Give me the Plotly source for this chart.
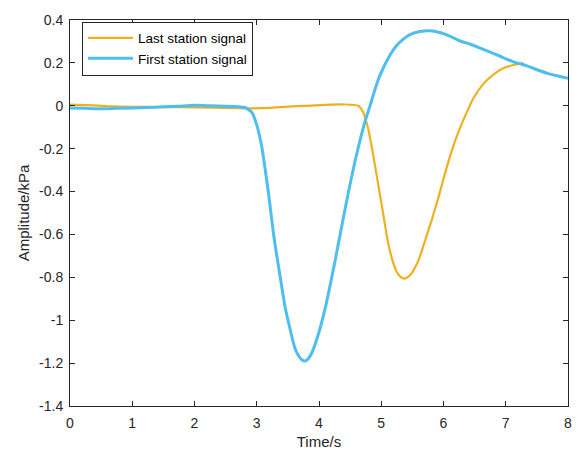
import plotly.graph_objects as go

# First station signal (blue)
first_t = [0.0, 0.25, 0.5, 0.75, 1.0, 1.25, 1.5, 1.75, 2.0, 2.25, 2.5, 2.7, 2.81, 2.92,
           3.0, 3.08, 3.13, 3.19, 3.24, 3.29, 3.35, 3.40, 3.45, 3.53, 3.61, 3.66, 3.72,
           3.78, 3.83, 3.88, 3.94, 4.02, 4.10, 4.18, 4.26, 4.34, 4.42, 4.50, 4.58, 4.66,
           4.74, 4.82, 4.88, 4.95, 5.03, 5.14, 5.25, 5.35, 5.46, 5.62, 5.78, 5.94, 6.10,
           6.27, 6.43, 6.59, 6.75, 6.91, 7.12, 7.34, 7.44, 7.66, 7.82, 8.0]
first_v = [-0.010, -0.012, -0.014, -0.012, -0.010, -0.008, -0.005, -0.002, 0.002, 0.000,
           -0.002, -0.004, -0.008, -0.03, -0.09, -0.19, -0.285, -0.41, -0.53, -0.64, -0.75,
           -0.84, -0.93, -1.035, -1.127, -1.16, -1.183, -1.19, -1.178, -1.155, -1.11,
           -1.035, -0.944, -0.835, -0.72, -0.60, -0.48, -0.365, -0.257, -0.16, -0.072,
           0.0, 0.058, 0.12, 0.175, 0.236, 0.282, 0.31, 0.332, 0.346, 0.35, 0.342, 0.325,
           0.302, 0.287, 0.269, 0.25, 0.231, 0.205, 0.186, 0.175, 0.152, 0.14, 0.128]

# Last station signal (orange)
last_t = [0.0, 0.3, 0.6, 1.0, 1.5, 2.0, 2.5, 2.9, 3.2, 3.5, 3.8, 4.1, 4.4, 4.63, 4.71,
          4.79, 4.87, 4.95, 5.03, 5.11, 5.19, 5.25, 5.31, 5.37, 5.43, 5.49, 5.55, 5.60,
          5.70, 5.81, 5.92, 6.02, 6.13, 6.24, 6.35, 6.48, 6.64, 6.80, 6.96, 7.12, 7.28]
last_v = [0.005, 0.003, -0.002, -0.005, -0.006, -0.008, -0.010, -0.012, -0.010, -0.004,
          0.0, 0.004, 0.006, 0.0, -0.03, -0.107, -0.228, -0.365, -0.502, -0.639, -0.73,
          -0.775, -0.798, -0.806, -0.798, -0.78, -0.75, -0.72, -0.632, -0.533, -0.426,
          -0.32, -0.213, -0.122, -0.046, 0.035, 0.102, 0.145, 0.175, 0.19, 0.2]

x_ticks = [0, 1, 2, 3, 4, 5, 6, 7, 8]
y_ticks = [0.4, 0.2, 0, -0.2, -0.4, -0.6, -0.8, -1.0, -1.2, -1.4]
y_labels = ["0.4", "0.2", "0", "-0.2", "-0.4", "-0.6", "-0.8", "-1", "-1.2", "-1.4"]

FONT = "Liberation Sans"
INK = "#262626"

fig = go.Figure()
fig.add_trace(go.Scatter(x=last_t, y=last_v, mode="lines", name="Last station signal",
                         line=dict(color="#EDB120", width=2.2, shape="spline", smoothing=0.5)))
fig.add_trace(go.Scatter(x=first_t, y=first_v, mode="lines", name="First station signal",
                         line=dict(color="#4DBEEE", width=3, shape="spline", smoothing=0.5)))

axis_common = dict(showgrid=False, zeroline=False, showline=True, linecolor=INK,
                   linewidth=1, mirror="allticks", ticks="inside", ticklen=5,
                   tickcolor=INK, ticklabeloverflow="allow",
                   tickfont=dict(family=FONT, size=14, color=INK))
fig.update_xaxes(range=[0, 8], tickvals=x_ticks, ticktext=[str(v) for v in x_ticks],
                 ticklabelstandoff=4,
                 title=dict(text="Time/s", font=dict(family=FONT, size=15, color=INK),
                            standoff=6),
                 **axis_common)
fig.update_yaxes(range=[-1.4, 0.4], tickvals=y_ticks, ticktext=y_labels,
                 ticklabelstandoff=3,
                 title=dict(text="Amplitude/kPa", font=dict(family=FONT, size=15, color=INK),
                            standoff=5),
                 **axis_common)

fig.update_layout(
    width=580, height=455,
    margin=dict(l=62, r=20, t=4, b=57),
    paper_bgcolor="white", plot_bgcolor="white",
    showlegend=True,
    legend=dict(x=0.024, y=0.996, xanchor="left", yanchor="top",
                bgcolor="white", bordercolor=INK, borderwidth=1,
                font=dict(family=FONT, size=13.5, color="#000000"),
                tracegroupgap=0, itemwidth=45),
)

fig.write_html("out.html")
